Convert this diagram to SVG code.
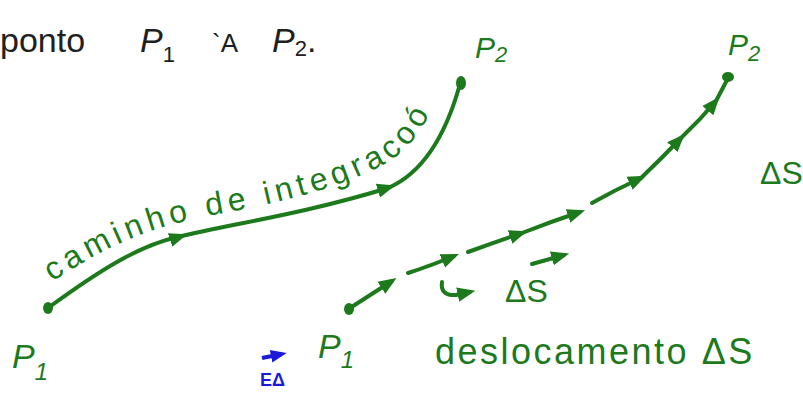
<svg xmlns="http://www.w3.org/2000/svg" width="803" height="394" viewBox="0 0 803 394">
<style>
.g{fill:#1c7a1c;font-family:"Liberation Sans",sans-serif;font-style:italic}
.u{font-style:normal}
.k{fill:#202020;font-family:"Liberation Sans",sans-serif}
.b{fill:#1a1ad8;font-family:"Liberation Sans",sans-serif;font-weight:bold}
.ln{fill:none;stroke:#1c7a1c;stroke-width:4;stroke-linecap:round}
.dot{fill:#1c7a1c}
</style>
<defs>
<marker id="ah" viewBox="0 0 10 10" refX="7" refY="5" markerWidth="4.5" markerHeight="4.5" orient="auto" markerUnits="strokeWidth">
<path d="M0,1 L10,5 L0,9 z" fill="#1c7a1c"/>
</marker>
<marker id="ahb" viewBox="0 0 10 10" refX="7" refY="5" markerWidth="4" markerHeight="4" orient="auto" markerUnits="strokeWidth">
<path d="M0,1 L10,5 L0,9 z" fill="#1a1ad8"/>
</marker>
<path id="tp" d="M52,282 C120,236 170,222 230,212 C300,198 360,182 398,155 C416,140 428,120 438,96"/>
</defs>
<rect width="803" height="394" fill="#fff"/>
<g id="title">
<text class="k" x="0" y="52" font-size="34">ponto<tspan x="140" font-style="italic">P</tspan><tspan font-size="22" dy="10">1</tspan><tspan x="212" dy="-10" font-size="26">`A</tspan><tspan x="272" font-size="34" font-style="italic">P</tspan><tspan font-size="22" dy="4">2</tspan><tspan dy="-4">.</tspan></text>
</g>
<g id="connectors">
<path class="ln" d="M48,308 C100,270 140,245 178,237 C230,224 300,215 388,188 C430,170 450,120 460,84"/>
<path class="ln" d="M176,238 L182,236" marker-end="url(#ah)"/>
<path class="ln" d="M380,190 L390,187" marker-end="url(#ah)"/>
<path class="ln" d="M350,308 L392,281" marker-end="url(#ah)"/>
<path class="ln" d="M408,273 Q430,266 454,256" marker-end="url(#ah)"/>
<path class="ln" d="M468,252 Q495,242 522,233" marker-end="url(#ah)"/>
<path class="ln" d="M522,233 Q550,222 580,212" marker-end="url(#ah)"/>
<path class="ln" d="M592,203 Q615,190 641,178" marker-end="url(#ah)"/>
<path class="ln" d="M641,178 Q662,158 681,138" marker-end="url(#ah)"/>
<path class="ln" d="M681,138 Q700,120 716,101" marker-end="url(#ah)"/>
<path class="ln" d="M716,101 L727,80"/>
<path class="ln" d="M442,282 Q440,296 456,295 L470,292" marker-end="url(#ah)"/>
<path class="ln" d="M532,264 L564,255" stroke-width="3.5" marker-end="url(#ah)"/>
</g>
<g id="p1-left">
<ellipse class="dot" cx="48" cy="308" rx="5" ry="6"/>
<text class="g" x="12" y="368" font-size="34">P<tspan font-size="24" dy="12">1</tspan></text>
</g>
<g id="p2-left">
<ellipse class="dot" cx="461" cy="83" rx="5" ry="7"/>
<text class="g" x="475" y="58" font-size="30">P<tspan font-size="22" dy="4">2</tspan></text>
</g>
<g id="path-label">
<text class="g u" font-size="32" letter-spacing="5"><textPath href="#tp">caminho de integracoó</textPath></text>
</g>
<g id="p1-right">
<ellipse class="dot" cx="349" cy="309" rx="5" ry="6"/>
<text class="g" x="318" y="358" font-size="34">P<tspan font-size="24" dy="10">1</tspan></text>
</g>
<g id="p2-right">
<ellipse class="dot" cx="728" cy="77" rx="6" ry="5"/>
<text class="g" x="728" y="55" font-size="30">P<tspan font-size="22" dy="6">2</tspan></text>
</g>
<g id="ds-label">
<text class="g u" x="505" y="302" font-size="32">ΔS</text>
</g>
<g id="ds-right">
<text class="g u" x="760" y="184" font-size="32">ΔS</text>
</g>
<g id="desloc">
<text class="g u" x="435" y="364" font-size="36" letter-spacing="2.5">deslocamento ΔS</text>
</g>
<g id="blue">
<path d="M262,358 L282,354" stroke="#1a1ad8" stroke-width="4" fill="none" marker-end="url(#ahb)"/>
<text class="b" x="260" y="386" font-size="18">EΔ</text>
</g>
</svg>
